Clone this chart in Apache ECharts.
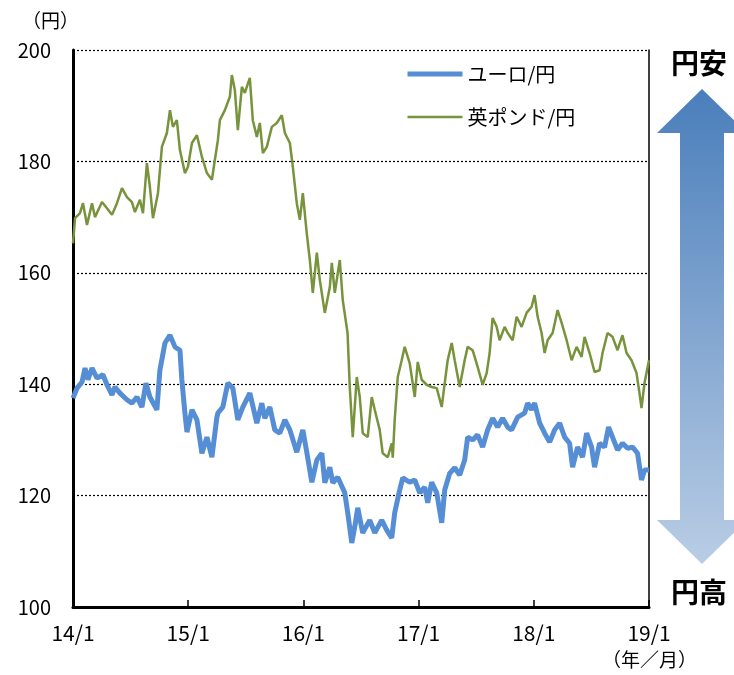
<!DOCTYPE html>
<html>
<head>
<meta charset="utf-8">
<script src="https://cdn.jsdelivr.net/npm/echarts@6/dist/echarts.min.js"></script>
<style>
html, body { margin: 0; padding: 0; background: #fff; }
#main { width: 734px; height: 675px; }
</style>
</head>
<body>
<div id="main"></div>
<script>
// 横軸は 2014年1月からの経過月数
var yearLabels = ['14/1', '15/1', '16/1', '17/1', '18/1', '19/1'];

var euroMonth = [0, 0.42, 0.94, 1.25, 1.56, 1.98, 2.5, 3.12, 3.54, 4.06, 4.37, 4.89, 5.62, 6.14, 6.66, 7.18, 7.6, 8.01, 8.74,
    9.05, 9.58, 10.1, 10.62, 11.14, 11.34, 11.66, 11.87, 12.39, 12.91, 13.43, 13.95, 14.47, 14.99, 15.09, 15.61, 16.13, 16.65,
    17.17, 17.69, 18.42, 19.15, 19.67, 19.98, 20.5, 21.02, 21.54, 22.07, 22.59, 23.31, 23.94, 24.35, 24.88, 25.4, 25.92, 26.23,
    26.75, 27.06, 27.58, 28.31, 28.62, 29.04, 29.35, 29.66, 30.18, 30.91, 31.43, 32.16, 32.68, 33.2, 33.51, 34.03, 34.35, 35.07,
    35.6, 36.12, 36.64, 36.95, 37.36, 37.89, 38.41, 38.72, 39.24, 39.76, 40.28, 40.8, 41.11, 41.63, 42.15, 42.67, 43.19, 43.71,
    44.23, 44.75, 45.28, 45.69, 46.32, 47.04, 47.36, 47.77, 48.08, 48.61, 49.13, 49.65, 50.17, 50.69, 51.21, 51.73, 52.04, 52.56,
    53.08, 53.5, 54.02, 54.33, 54.85, 55.37, 55.79, 56.2, 56.72, 57.24, 57.77, 58.29, 58.81, 59.22, 59.53, 60];
var euroValue = [137.5, 139.3, 140.4, 142.9, 140.8, 142.9, 141.1, 141.7, 139.9, 138.1, 139.5, 138.4, 137.2, 136.6, 137.7, 135.9, 140.2, 137.7, 135.4,
    142.5, 147.4, 148.8, 146.7, 146.1, 140.8, 134.8, 131.4, 135.4, 133.6, 127.6, 130.5, 126.9, 134.1, 134.8, 135.9, 140.2, 139.3,
    133.6, 135.9, 138.4, 133.0, 136.6, 133.9, 135.9, 131.8, 131.2, 133.6, 131.8, 127.8, 131.8, 127.8, 122.4, 126.4, 127.6, 122.3,
    125.1, 122.3, 123.3, 120.5, 116.9, 111.5, 114.4, 117.8, 113.3, 115.6, 113.3, 115.6, 113.8, 112.4, 116.9, 121.0, 123.2, 122.4,
    122.8, 120.5, 121.5, 118.7, 122.4, 120.5, 115.1, 121.0, 124.0, 125.0, 123.7, 126.4, 130.5, 130.0, 130.9, 128.7, 131.8, 133.9,
    132.3, 133.9, 132.3, 131.8, 134.1, 134.8, 136.6, 135.4, 136.6, 133.0, 131.2, 129.6, 131.8, 133.0, 130.5, 129.4, 125.1, 128.7,
    126.9, 131.2, 128.7, 125.1, 129.4, 128.7, 132.3, 130.5, 128.2, 129.4, 128.5, 128.7, 127.6, 122.8, 124.6, 124.6];

var gbpMonth = [0, 0.21, 0.73, 1.04, 1.46, 1.98, 2.29, 3.02, 3.54, 4.06, 4.58, 5.1, 5.62, 6.14, 6.45, 6.97, 7.29, 7.7, 8.01,
    8.33, 8.85, 9.26, 9.78, 10.1, 10.41, 10.82, 11.14, 11.66, 11.97, 12.39, 12.91, 13.43, 13.95, 14.47, 14.78, 15.09, 15.3,
    15.82, 16.34, 16.55, 16.86, 17.17, 17.59, 17.9, 18.42, 18.73, 19.15, 19.46, 19.78, 20.19, 20.71, 21.23, 21.75, 22.07, 22.59,
    22.9, 23.31, 23.63, 23.94, 24.35, 24.67, 24.98, 25.4, 25.71, 26.23, 26.75, 26.96, 27.27, 27.79, 28.1, 28.3, 28.6, 28.83,
    29.14, 29.56, 29.87, 30.18, 30.7, 31.12, 31.43, 31.95, 32.26, 32.79, 33.2, 33.31, 33.51, 33.83, 34.24, 34.55, 35.07, 35.6,
    35.91, 36.32, 36.84, 37.36, 37.89, 38.41, 38.72, 39.03, 39.45, 39.76, 40.28, 40.8, 41.11, 41.63, 42.15, 42.67, 43.09, 43.4,
    43.71, 44.13, 44.44, 44.96, 45.28, 45.8, 46.21, 46.73, 47.25, 47.77, 48.08, 48.4, 48.81, 49.13, 49.44, 49.96, 50.48, 50.9,
    51.42, 51.94, 52.46, 52.98, 53.29, 53.81, 54.33, 54.85, 55.16, 55.68, 56.2, 56.72, 57.24, 57.66, 58.18, 58.7, 59.01, 59.22,
    59.53, 60];
var gbpValue = [165.3, 169.8, 170.7, 172.5, 168.6, 172.5, 170.0, 172.7, 171.6, 170.4, 172.5, 175.2, 173.6, 172.7, 170.9, 173.1, 170.7, 179.7, 175.4,
    169.8, 174.3, 182.6, 185.1, 189.2, 186.2, 187.4, 182.0, 177.9, 179.0, 183.3, 184.7, 180.8, 177.9, 176.7, 180.3, 183.8, 187.4,
    189.2, 191.6, 195.5, 192.8, 185.6, 193.4, 192.3, 195.0, 187.4, 184.4, 186.9, 181.5, 182.6, 186.2, 186.9, 188.3, 185.1, 183.3,
    179.0, 172.5, 169.5, 174.3, 167.1, 162.3, 156.4, 163.6, 158.7, 152.8, 157.4, 161.8, 156.4, 162.3, 155.1, 155.1, 149.2, 139.5,
    130.5, 141.3, 137.7, 131.2, 130.5, 137.7, 135.4, 131.8, 127.6, 126.9, 129.4, 126.8, 133.6, 141.3, 144.3, 146.7, 143.8, 137.7,
    144.0, 140.8, 139.9, 139.5, 139.3, 135.9, 140.2, 144.3, 147.4, 144.3, 139.5, 144.3, 146.7, 146.1, 143.1, 139.9, 142.0, 145.6,
    151.9, 150.3, 147.9, 150.3, 149.2, 147.9, 152.1, 150.3, 152.8, 153.9, 156.0, 152.1, 149.2, 145.6, 147.9, 149.2, 153.3, 151.0,
    147.9, 144.3, 146.7, 144.9, 148.5, 145.6, 142.2, 142.5, 145.6, 149.2, 148.5, 146.1, 148.8, 145.6, 144.3, 142.0, 138.4, 135.7,
    140.2, 144.3];

function zip(xs, ys) {
    var out = [];
    for (var i = 0; i < xs.length; i++) out.push([xs[i], ys[i]]);
    return out;
}

var font = '"Noto Sans CJK JP", "Noto Sans", sans-serif';
var myChart = echarts.init(document.getElementById('main'));

myChart.setOption({
    animation: false,
    backgroundColor: '#fff',
    textStyle: { fontFamily: font },
    grid: { left: 73, right: 85, top: 50, bottom: 68 },
    legend: {
        left: 400,
        top: 59,
        orient: 'vertical',
        itemWidth: 55,
        itemHeight: 14,
        itemGap: 23,
        itemStyle: { opacity: 0 },
        textStyle: { fontSize: 20, color: '#000', fontFamily: font },
        data: [
            { name: 'ユーロ/円', lineStyle: { width: 5 } },
            { name: '英ポンド/円', lineStyle: { width: 2.5 } }
        ]
    },
    xAxis: {
        type: 'value',
        min: 0,
        max: 60,
        interval: 12,
        axisLine: { lineStyle: { color: '#000', width: 3 } },
        axisTick: { inside: true, length: 7, lineStyle: { color: '#000', width: 1.5 } },
        axisLabel: {
            color: '#000', fontSize: 21, margin: 16,
            formatter: function (v) { return yearLabels[v / 12]; }
        },
        splitLine: { show: false }
    },
    yAxis: [{
        type: 'value',
        min: 100,
        max: 200,
        interval: 20,
        axisLine: { show: true, lineStyle: { color: '#000', width: 3 } },
        axisTick: { show: false },
        axisLabel: { color: '#000', fontSize: 20, margin: 22 },
        splitLine: { lineStyle: { color: '#000', type: [2, 2], width: 1.2 } }
    }, {
        type: 'value',
        position: 'right',
        min: 100,
        max: 200,
        interval: 20,
        axisLine: { show: true, lineStyle: { color: '#000', width: 1.5 } },
        axisTick: { show: false },
        axisLabel: { show: false },
        splitLine: { show: false }
    }],
    series: [{
        name: '英ポンド/円',
        type: 'line',
        showSymbol: false,
        symbol: 'none',
        color: '#77933c',
        lineStyle: { width: 2.5, color: '#77933c' },
        data: zip(gbpMonth, gbpValue)
    }, {
        name: 'ユーロ/円',
        type: 'line',
        showSymbol: false,
        symbol: 'none',
        color: '#558ed5',
        lineStyle: { width: 5, color: '#558ed5' },
        data: zip(euroMonth, euroValue)
    }],
    graphic: [
        { type: 'text', left: 22, top: 11, style: { text: '（円）', fill: '#000', font: '19px ' + font } },
        { type: 'text', left: 602, top: 650, style: { text: '（年／月）', fill: '#000', font: '19px ' + font } },
        {
            type: 'polygon',
            shape: { points: [[702, 89], [657, 133], [680, 133], [680, 520], [657, 520], [702, 564], [747, 520], [724, 520], [724, 133], [747, 133]] },
            style: {
                fill: new echarts.graphic.LinearGradient(0, 0, 0, 1, [
                    { offset: 0, color: '#4a7ebb' },
                    { offset: 1, color: '#b9cde5' }
                ])
            }
        },
        { type: 'text', left: 671, top: 49, style: { text: '円安', fill: '#000', font: 'bold 28px ' + font } },
        { type: 'text', left: 671, top: 578, style: { text: '円高', fill: '#000', font: 'bold 28px ' + font } }
    ]
});
</script>
</body>
</html>
